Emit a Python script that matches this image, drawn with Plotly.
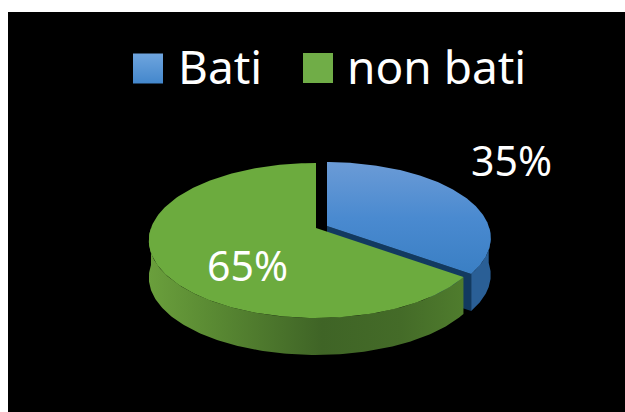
import numpy as np
import plotly.graph_objects as go

categories = ["Bati", "non bati"]
shares = [35, 65]
labels = ["35%", "65%"]

W, H = 625, 412
CX, CY, B, A, K, DEPTH = 316, 228, 165, 75.5, 0.161, 37
EXPLODE = (11, -2)
BLUE_SCALE = 0.98


def project(u, v, dx=0, dy=0, dz=0):
    d = 1 + K * v
    return CX + dx + B * u / d, CY + dy + dz - A * v / d


def arc(t0, t1, n=160, scale=1.0):
    t = np.radians(np.linspace(t0, t1, n))
    return scale * np.sin(t), scale * np.cos(t)


split = 360 * shares[0] / sum(shares)

fig = go.Figure()


def poly(xs, ys, gradient=None, color=None):
    kw = dict(x=np.asarray(xs), y=np.asarray(ys), mode="lines", fill="toself",
              line=dict(width=0), hoverinfo="skip", showlegend=False)
    if gradient:
        kw["fillgradient"] = gradient
    else:
        kw["fillcolor"] = color
    fig.add_trace(go.Scatter(**kw))


ex, ey = EXPLODE
# blue cut face
u, v = arc(split, split, 1, BLUE_SCALE)
ax, ay = project(0, 0, ex, ey)
bx, by = project(u[0], v[0], ex, ey)
poly([ax, bx, bx, ax], [ay, by, by + DEPTH, ay + DEPTH], color="#123a60")

# blue outer wall
u, v = arc(90, split, scale=BLUE_SCALE)
x, y = project(u, v, ex, ey)
x2, y2 = project(u, v, ex, ey, DEPTH)
poly(np.r_[x, x2[::-1]], np.r_[y, y2[::-1]], color="#2a5f96")

# blue top
u, v = arc(0, split, scale=BLUE_SCALE)
x, y = project(u, v, ex, ey)
poly(np.r_[ax, x], np.r_[ay, y], gradient=dict(
    type="vertical",
    colorscale=[[0, "#3a7fc4"], [0.5, "#4a8ad0"], [1, "#6b9bd6"]]))

# green outer wall
u, v = arc(split, 270)
x, y = project(u, v)
x2, y2 = project(u, v, dz=DEPTH)
poly(np.r_[x, x2[::-1]], np.r_[y, y2[::-1]], gradient=dict(
    type="horizontal",
    colorscale=[[0, "#6a9f3c"], [0.2, "#5a8a33"], [0.55, "#3f6426"],
                [0.8, "#446b28"], [1, "#4f7c2d"]]))

# green top
u, v = arc(split, 360)
x, y = project(u, v)
cx0, cy0 = project(0, 0)
poly(np.r_[cx0, x], np.r_[cy0, y], color="#6cab3e")

# legend swatches
fig.add_trace(go.Scatter(
    x=[148, 318], y=[68.5, 68], mode="markers", hoverinfo="skip", showlegend=False,
    marker=dict(symbol="square", size=30, color=["#6fa5de", "#70ad47"],
                line=dict(width=0),
                gradient=dict(type="vertical", color=["#4387cc", "#70ad47"]))))

FONT = "Noto Sans"
for txt, xp, yp, sz, anchor in [
    (categories[0], 176, 66, 46, "left"),
    (categories[1], 345, 66, 46, "left"),
    (labels[0], 511, 160, 41, "center"),
    (labels[1], 247, 265, 41, "center"),
]:
    fig.add_annotation(x=xp, y=yp, text=txt, showarrow=False, xanchor=anchor, yanchor="middle",
                       font=dict(family=FONT, size=sz, color="white"))

fig.update_layout(
    width=W, height=H, autosize=False,
    margin=dict(l=0, r=0, t=0, b=0),
    paper_bgcolor="white", plot_bgcolor="white",
    xaxis=dict(range=[0, W], visible=False, fixedrange=True),
    yaxis=dict(range=[H, 0], visible=False, fixedrange=True),
    shapes=[dict(type="rect", layer="below", x0=8, x1=W, y0=12, y1=H,
                 fillcolor="black", line=dict(width=0))],
)
fig.write_html("out.html", config={"displayModeBar": False},
               post_script="document.body.style.margin='0';document.body.style.overflow='hidden';")
